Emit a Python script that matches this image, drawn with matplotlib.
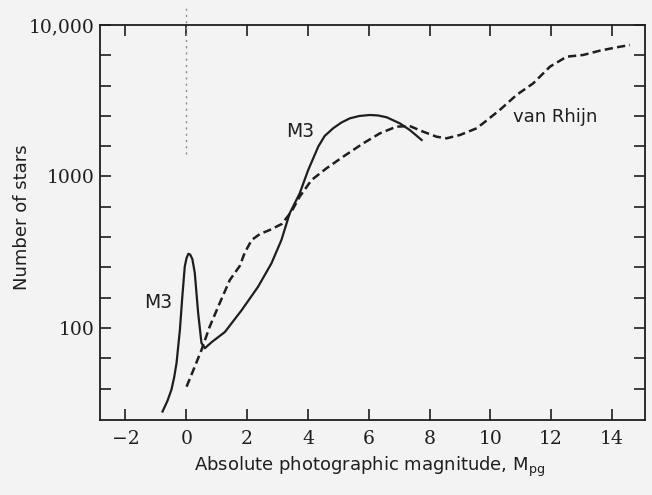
import numpy as np
import matplotlib
matplotlib.use("Agg")
import matplotlib.pyplot as plt
from matplotlib.ticker import FixedLocator, NullFormatter

# M3 luminosity function (solid)
m3_mag = [-0.78, -0.62, -0.49, -0.40, -0.32, -0.21, -0.13, -0.05, 0.01, 0.07,
          0.13, 0.20, 0.28, 0.39, 0.50, 0.61, 0.84, 1.27, 1.82, 2.36,
          2.80, 3.13, 3.40, 3.73, 4.01, 4.34, 4.55, 4.83, 5.10, 5.38,
          5.70, 6.04, 6.30, 6.59, 7.02, 7.35, 7.74]
m3_num = [28.1, 33.0, 39.0, 47.0, 58.7, 97, 161, 254, 290, 309,
          305, 285, 231, 126, 79.6, 73.5, 80.8, 94.1, 131, 187,
          267, 381, 571, 774, 1104, 1574, 1850, 2081, 2270, 2421,
          2510, 2547, 2530, 2460, 2244, 2028, 1742]

# van Rhijn general luminosity function (dashed)
vr_mag = [0.01, 0.28, 0.50, 0.77, 1.10, 1.43, 1.76, 1.92, 2.15, 2.42,
          2.75, 3.14, 3.46, 3.73, 4.12, 4.61, 5.16, 5.82, 6.37, 6.91,
          7.35, 7.79, 8.23, 8.56, 9.00, 9.55, 9.76, 10.31, 10.86, 11.41,
          11.96, 12.51, 13.05, 13.60, 14.15, 14.59]
vr_num = [41.0, 55.6, 71.6, 102, 146, 207, 257, 313, 381, 417,
          444, 486, 586, 736, 948, 1132, 1352, 1656, 1928, 2133,
          2153, 1976, 1831, 1787, 1879, 2081, 2244, 2748, 3451, 4121,
          5309, 6180, 6340, 6767, 7122, 7380]

xticks = [-2, 0, 2, 4, 6, 8, 10, 12, 14]
yticks = [100, 1000, 10000]
ytick_labels = ["100", "1000", "10,000"]

plt.rcParams['mathtext.fontset'] = 'dejavusans'
ink = '#1e1e1e'
bg = '#f3f3f3'

fig = plt.figure(figsize=(6.52, 4.95), dpi=100, facecolor=bg)
ax = fig.add_axes([0.153, 0.1515, 0.836, 0.798])
ax.set_facecolor(bg)

ax.plot(m3_mag, m3_num, color=ink, lw=1.6, solid_joinstyle='round')
ax.plot(vr_mag, vr_num, color=ink, lw=1.8, ls=(0, (3.3, 1.7)))

# faint fold mark of the scan at M = 0
ax.plot([0, 0], [1400, 13500], color='#8a8a8a', lw=1.0, ls=(0, (1.5, 3)),
        clip_on=False)

ax.set_yscale('log')
ax.set_xlim(-2.845, 15.08)
ax.set_ylim(24.7, 10000)

ax.set_xticks(xticks)
ax.set_xticklabels([str(t).replace('-', '\u2212') for t in xticks],
                   family='DejaVu Serif', fontsize=13.5)
ax.set_yticks(yticks)
ax.set_yticklabels(ytick_labels, family='DejaVu Serif', fontsize=13.5)
ax.yaxis.set_minor_locator(FixedLocator([10 ** e for e in np.arange(1.6, 4.0, 0.2)
                                         if abs(e - round(e)) > 0.01]))
ax.yaxis.set_minor_formatter(NullFormatter())

ax.tick_params(which='both', direction='in', top=True, right=True,
               length=8, width=1.2, color=ink, labelcolor=ink)
ax.tick_params(axis='x', pad=7)
ax.tick_params(axis='y', pad=4)
for sp in ax.spines.values():
    sp.set_linewidth(1.3)
    sp.set_color(ink)

ax.text(3.73, 1824, 'M3', ha='center', va='baseline', fontsize=13.5, color=ink)
ax.text(-0.92, 135.6, 'M3', ha='center', va='baseline', fontsize=13.5, color=ink)
ax.text(10.74, 2291, 'van Rhijn', ha='left', va='baseline', fontsize=13, color=ink)

ax.set_ylabel('Number of stars', fontsize=13, color=ink, va='center')
ax.yaxis.set_label_coords(-0.143, 0.514)
ax.set_xlabel(r'Absolute photographic magnitude, M$_{\rm pg}$', fontsize=13,
              color=ink, va='center')
ax.xaxis.set_label_coords(0.495, -0.119)

fig.savefig('out.png', dpi=100, facecolor=bg)
